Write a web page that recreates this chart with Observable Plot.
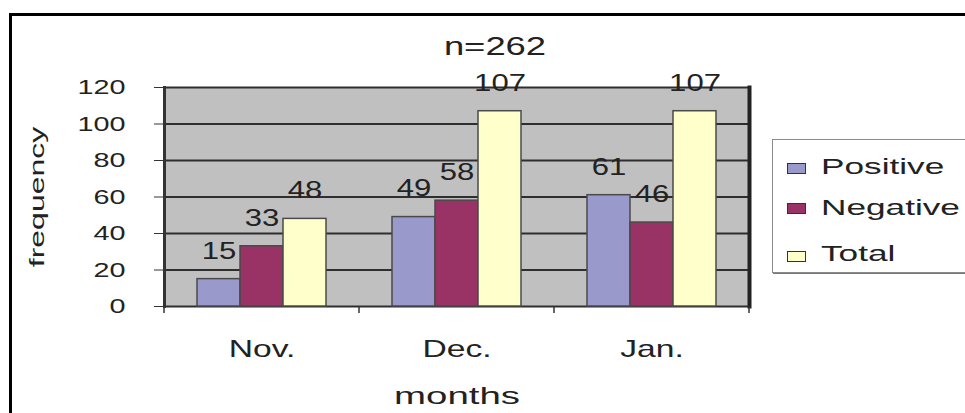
<!DOCTYPE html>
<html><head><meta charset="utf-8">
<script src="https://cdn.jsdelivr.net/npm/d3@7"></script>
<script src="https://cdn.jsdelivr.net/npm/@observablehq/plot@0.6"></script>
<style>
html,body{margin:0;padding:0;background:#fff;width:965px;height:413px;overflow:hidden;position:relative;font-family:"Liberation Sans",Arial,sans-serif;color:#222;}
#frame{position:absolute;left:9px;top:13px;width:1200px;height:600px;border-top:3px solid #000;border-left:3px solid #000;}
#chart{position:absolute;left:0;top:0;}
#title{position:absolute;left:495px;top:33px;font-size:26px;line-height:26px;white-space:nowrap;transform:translateX(-50%) scaleX(1.4);}
#legend{position:absolute;left:772px;top:139px;width:220px;height:132px;border:1px solid #8a8a8a;box-shadow:1px 1px 0 #777;background:#fff;}
.sw{position:absolute;left:14px;width:19px;height:11px;border:1px solid #333;box-sizing:border-box;}
.lt{position:absolute;left:48px;font-size:22px;line-height:22px;white-space:nowrap;transform-origin:left center;transform:scaleX(1.6);}
</style>
</head><body>
<div id="frame"></div>
<div id="chart"></div>
<div id="title"></div>
<div id="legend"></div>
<script>
const title = "n=262";
const months = ["Nov.", "Dec.", "Jan."];
const series = ["Positive", "Negative", "Total"];
const positive = [15, 49, 61];
const negative = [33, 58, 46];
const total = [48, 107, 107];
const yTicks = [0, 20, 40, 60, 80, 100, 120];
const colors = ["#9999cc", "#993366", "#ffffcc"];

const valuesBySeries = [positive, negative, total];
const data = months.flatMap((m, i) => series.map((s, j) => ({month: m, series: s, value: valuesBySeries[j][i]})));

const plot = Plot.plot({
  width: 965, height: 413,
  marginLeft: 163, marginRight: 216, marginTop: 87, marginBottom: 107,
  style: {fontFamily: '"Liberation Sans", Arial, sans-serif', background: "transparent", color: "#222"},
  fx: {domain: months, padding: 0, label: "months"},
  x: {domain: series, paddingInner: 0, paddingOuter: 0.74, axis: null},
  y: {domain: [0, 120], label: "frequency"},
  color: {domain: series, range: colors},
  marks: [
    Plot.frame({fill: "#c0c0c0", stroke: "none", shapeRendering: "crispEdges"}),
    Plot.ruleY(yTicks, {stroke: "#2e2e2e", strokeWidth: 2}),
    Plot.barY(data, {fx: "month", x: "series", y: "value", fill: "series", stroke: "#4a4a4a", strokeWidth: 1.5}),
    Plot.text(data, {fx: "month", x: "series", y: "value", text: d => String(d.value), dy: -28, fontSize: 23, fill: "#222"}),
    Plot.axisY({ticks: yTicks, tickSize: 10, tickPadding: 29, label: "frequency", labelAnchor: "center", labelArrow: "none", labelOffset: 135, stroke: "#333"}),
    Plot.axisFx({anchor: "bottom", tickSize: 0, tickPadding: 33, label: "months", labelAnchor: "center", labelArrow: "none", labelOffset: 97}),
    Plot.frame({anchor: "left", facetAnchor: "left", stroke: "#333", strokeWidth: 3}),
    Plot.frame({anchor: "right", facetAnchor: "right", stroke: "#222", strokeWidth: 4})
  ]
});
document.getElementById("chart").append(plot);

const svg = d3.select(plot);
function stretch(sel, size, f) {
  sel.each(function() {
    this.style.fontSize = size + "px";
    const L = this.getComputedTextLength();
    this.setAttribute("textLength", L * f);
    this.setAttribute("lengthAdjust", "spacingAndGlyphs");
  });
}
stretch(svg.selectAll('g[aria-label="y-axis tick label"] text'), 21, 1.37);
stretch(svg.selectAll('g[aria-label="fx-axis tick label"] text'), 24, 1.4);
stretch(svg.selectAll('g[aria-label="y-axis label"] text'), 20, 1.6);
stretch(svg.selectAll('g[aria-label="fx-axis label"] text'), 24, 1.6);
stretch(svg.selectAll('g[aria-label="text"] text'), 23, 1.35);

// x-axis tick marks at group boundaries, from the fx scale
const fx = plot.scale("fx");
const yS = plot.scale("y");
const y0 = yS.apply(0);
const bounds = months.map(m => fx.apply(m)).concat([fx.apply(months[months.length - 1]) + fx.bandwidth]);
svg.append("g").selectAll("line").data(bounds).join("line")
  .attr("x1", d => d).attr("x2", d => d).attr("y1", y0).attr("y2", y0 + 7)
  .attr("stroke", "#333").attr("stroke-width", 1.5);

document.getElementById("title").textContent = title;
const legend = d3.select("#legend");
const swTop = [23, 63, 111];
const txTop = [16, 57, 103];
series.forEach((s, i) => {
  legend.append("div").attr("class", "sw").style("top", swTop[i] + "px").style("background", colors[i]);
  legend.append("div").attr("class", "lt").style("top", txTop[i] + "px").text(s);
});
</script>
</body></html>
